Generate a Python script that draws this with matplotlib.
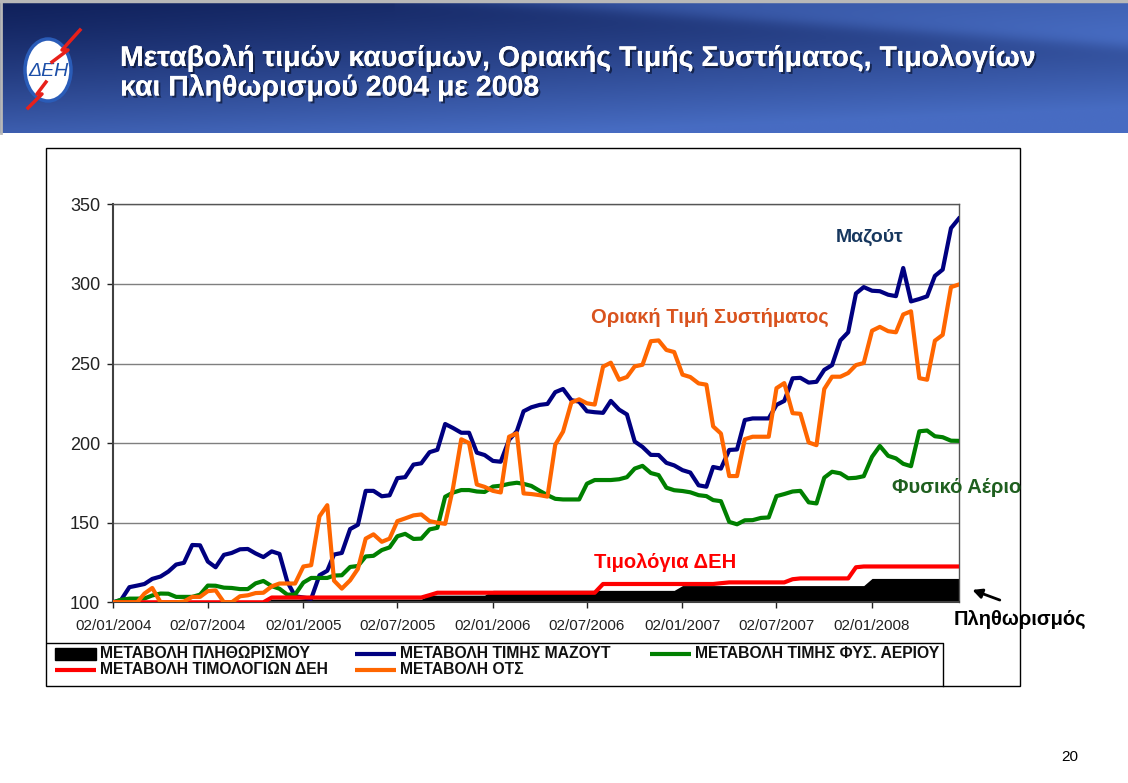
import numpy as np
import pandas as pd
import matplotlib
matplotlib.use('Agg')
import matplotlib.pyplot as plt
import matplotlib.dates as mdates
import matplotlib.patheffects as pe
from matplotlib.patches import Rectangle, Ellipse

plt.rcParams['font.family'] = ['Liberation Sans', 'DejaVu Sans']

# ---- data: semi-monthly points (2nd and 17th of each month), Jan 2004 - Jun 2008
dates = pd.to_datetime([f"{y}-{m:02d}-{d:02d}"
                        for y in range(2004, 2009)
                        for m in range(1, 13)
                        for d in (2, 17)
                        if not (y == 2008 and m > 6)])

inflation = [
    100, 100, 100, 100, 100, 100, 100, 100, 100, 100, 100, 100,
    100, 100, 100, 100, 100, 100, 100, 100, 102, 102, 102, 102,
    102, 102, 102, 102, 102, 102, 102, 102, 102, 102, 102, 102,
    102, 102, 102, 102, 104.5, 104.5, 104.5, 104.5, 104.5, 104.5, 104.5, 104.5,
    107.5, 107.5, 107.5, 107.5, 107.5, 107.5, 107.5, 107.5, 107.5, 107.5, 107.5, 107.5,
    107.5, 107.5, 107.5, 107.5, 107.5, 107.5, 107.5, 107.5, 107.5, 107.5, 107.5, 107.5,
    110.5, 110.5, 110.5, 110.5, 110.5, 110.5, 110.5, 110.5, 110.5, 110.5, 110.5, 110.5,
    110.5, 110.5, 110.5, 110.5, 110.5, 110.5, 110.5, 110.5, 110.5, 110.5, 110.5, 110.5,
    115, 115, 115, 115, 115, 115, 115, 115, 115, 115, 115, 115,
]

mazout = [
    100, 101.5, 109.5, 110.5, 111.5, 114.7, 116.2, 119.3, 123.7, 124.8, 136, 135.8,
    125.6, 122, 129.8, 131, 133.3, 133.5, 130.7, 128.4, 132, 130.4, 113, 103.8,
    103, 102.2, 117, 119.8, 130, 131, 146, 148.7, 170, 170, 166.6, 167.2,
    178, 178.6, 186.5, 187.3, 194.3, 195.8, 212, 209.5, 206.5, 206.5, 194, 192.5,
    188.8, 188.3, 202, 207.5, 220, 222.5, 224, 224.6, 232, 234, 227, 226,
    220, 219.4, 219, 226.5, 221, 218, 201, 197.6, 192.6, 192.5, 187.6, 186,
    183, 181.5, 173.5, 172.6, 185, 184, 195.7, 196, 214.5, 215.5, 215.5, 215.5,
    224, 226.5, 240.7, 241, 238, 238.5, 246, 249, 264.5, 269.6, 294, 298,
    295.7, 295.4, 293.2, 292.3, 310, 289, 290.5, 292.2, 305, 309, 335, 341,
]

gas = [
    100, 101.6, 102.3, 102.3, 102.4, 104.3, 105.5, 105.4, 103.4, 103.4, 103.4, 104.8,
    110.5, 110.4, 109.2, 109, 108.3, 108.3, 111.9, 113.4, 110.2, 108.5, 104.8, 104.8,
    112.4, 115.3, 115.3, 115.3, 116.8, 117, 122.2, 122.8, 128.8, 129.2, 132.8, 134.5,
    141.5, 143, 139.8, 140, 145.8, 146.8, 166.3, 168.9, 170.5, 170.5, 169.6, 169.3,
    172.7, 173.2, 174.4, 175.1, 174.4, 173.1, 170, 167.3, 165, 164.6, 164.6, 164.6,
    174.5, 176.8, 176.8, 176.8, 177.3, 178.6, 184, 185.7, 181.2, 179.9, 172, 170.4,
    169.9, 169.1, 167.3, 166.7, 164.2, 163.5, 150.5, 149, 151.5, 151.6, 153, 153.3,
    166.7, 168, 169.6, 170, 162.8, 162.1, 178.3, 182, 181, 177.9, 178.2, 179.2,
    191.4, 198.2, 192, 190.4, 187, 185.5, 207.4, 207.9, 204.3, 203.7, 201.5, 201.4,
]

tariff = [
    100, 100, 100, 100, 100, 100, 100, 100, 100, 100, 100, 100,
    100, 100, 100, 100, 100, 100, 100, 100, 103, 103, 103, 103,
    103, 103, 103, 103, 103, 103, 103, 103, 103, 103, 103, 103,
    103, 103, 103, 103, 104.5, 106, 106, 106, 106, 106, 106, 106,
    106, 106, 106, 106, 106, 106, 106, 106, 106, 106, 106, 106,
    106, 106, 111.5, 111.5, 111.5, 111.5, 111.5, 111.5, 111.5, 111.5, 111.5, 111.5,
    111.5, 111.5, 111.5, 111.5, 111.5, 112, 112.5, 112.5, 112.5, 112.5, 112.5, 112.5,
    112.5, 112.5, 114.5, 115, 115, 115, 115, 115, 115, 115, 122, 122.5,
    122.5, 122.5, 122.5, 122.5, 122.5, 122.5, 122.5, 122.5, 122.5, 122.5, 122.5, 122.5,
]

ots = [
    100, 100, 100, 100, 105.5, 109, 100, 100, 100, 100.5, 103.4, 103.4,
    107, 107.5, 100, 100, 103.8, 104.4, 105.8, 106, 110, 111.8, 111.8, 111.8,
    122.5, 123.3, 154, 161, 113.6, 108.6, 113.8, 121, 140, 142.7, 138, 140,
    151, 152.7, 154.6, 155.2, 151, 150, 149.3, 171.5, 202.4, 200, 174, 172.5,
    170, 169, 204, 206.2, 168.4, 168, 167.3, 166.4, 199, 207.2, 225.5, 227.5,
    225, 224.2, 248, 250.5, 239.8, 241.5, 248.2, 249.2, 264, 264.5, 258.5, 257.2,
    243, 241.5, 237.5, 236.7, 210.5, 206, 179.3, 179.3, 202.5, 204, 204, 204,
    234.5, 237.7, 218.8, 218.4, 200.4, 198.7, 234, 241.7, 241.7, 244, 249, 250.3,
    270.6, 273, 270.3, 269.6, 280.8, 282.8, 240.8, 239.8, 264.3, 268, 298, 299.6,
]

legend_labels = ['ΜΕΤΑΒΟΛΗ ΠΛΗΘΩΡΙΣΜΟΥ', 'ΜΕΤΑΒΟΛΗ ΤΙΜΗΣ ΜΑΖΟΥΤ',
                 'ΜΕΤΑΒΟΛΗ ΤΙΜΗΣ ΦΥΣ. ΑΕΡΙΟΥ', 'ΜΕΤΑΒΟΛΗ ΤΙΜΟΛΟΓΙΩΝ ΔΕΗ',
                 'ΜΕΤΑΒΟΛΗ ΟΤΣ']
colors = ['black', '#000080', '#008000', '#ff0000', '#ff6600']
title = 'Μεταβολή τιμών καυσίμων, Οριακής Τιμής Συστήματος, Τιμολογίων\nκαι Πληθωρισμού 2004 με 2008'

W, H = 1128, 783
fig = plt.figure(figsize=(W / 100, H / 100), dpi=100)

# background layer in pixel coordinates
bg = fig.add_axes([0, 0, 1, 1], zorder=0)

# header gradient
xx, yy = np.meshgrid(np.linspace(0, 1, 500), np.linspace(0, 1, 120))
t = 0.08 + 0.75 * yy ** 1.3 + 0.35 * xx
d = yy - (xx - 0.42) * 0.6
swoosh = 1 / (1 + np.exp(d / 0.03)) * (xx > 0.35)
t = np.clip(t + 0.45 * swoosh, 0, 1)
dark = np.array([0x0b, 0x1a, 0x52]) / 255
light = np.array([0x47, 0x6c, 0xc2]) / 255
grad = dark + (light - dark) * t[..., None]
bg.imshow(grad, extent=(0, W, 133, 0), aspect='auto', zorder=0)
bg.plot([0, W], [1, 1], color='#b8b8b8', lw=2.5, zorder=1)
bg.plot([1, 1], [0, 133], color='#b8b8b8', lw=2, zorder=1)

# logo
bg.add_patch(Ellipse((48, 70), 46, 62, fc='white', ec='#2a5cb8', lw=2.5, zorder=2))
bg.text(49, 72, 'ΔΕΗ', color='#1d4fa8', fontsize=14, style='italic',
        ha='center', va='center', zorder=3)
bg.plot([80, 62, 68, 52], [30, 50, 50, 62], color='#e8201a', lw=2.5, zorder=4)
bg.plot([46, 37, 42, 28], [82, 94, 94, 108], color='#e8201a', lw=2.5, zorder=4)

bg.text(120, 45, title, color='white', fontsize=20.5, fontweight='bold',
        ha='left', va='top', linespacing=1.12,
        path_effects=[pe.withSimplePatchShadow(offset=(1.5, -1.5), shadow_rgbFace='#0a1430', alpha=0.7),
                      pe.Normal()], zorder=5)

# chart frame and legend box
bg.add_patch(Rectangle((46, 148), 974, 538, fill=False, ec='black', lw=1, zorder=2))
bg.plot([47, 943, 943], [643, 643, 686], color='black', lw=1, zorder=2)

leg_pos = [(55, 654), (355, 654), (650, 654), (55, 670), (355, 670)]
for lab, col, (lx, ly) in zip(legend_labels, colors, leg_pos):
    if col == 'black':
        bg.add_patch(Rectangle((lx, ly - 6), 41, 12, color='black', zorder=3))
    else:
        bg.plot([lx, lx + 41], [ly, ly], color=col, lw=3, solid_capstyle='butt', zorder=3)
    bg.text(lx + 45, ly, lab, fontsize=11.3, fontweight='bold', color='#111111',
            ha='left', va='center', zorder=3)

bg.text(1070, 757, '20', fontsize=11, ha='center', va='center')
bg.set_xlim(0, W)
bg.set_ylim(H, 0)
bg.axis('off')

# ---- chart
ax = fig.add_axes([113.3 / W, 1 - 602.3 / H, (959.3 - 113.3) / W, (602.3 - 204.3) / H], zorder=2)
ax.patch.set_alpha(0)

ax.fill_between(dates, 100, inflation, color='black', lw=0, zorder=2)
ax.plot(dates, mazout, color=colors[1], lw=3, solid_joinstyle='round', zorder=3)
ax.plot(dates, gas, color=colors[2], lw=3, solid_joinstyle='round', zorder=4)
ax.plot(dates, tariff, color=colors[3], lw=3, solid_joinstyle='round', zorder=5)
ax.plot(dates, ots, color=colors[4], lw=3, solid_joinstyle='round', zorder=6)

ax.set_ylim(100, 350)
ax.set_xlim(pd.Timestamp('2004-01-02'), pd.Timestamp('2008-06-18'))
ax.set_yticks(range(100, 351, 50))
xt = pd.date_range('2004-01-01', '2008-01-01', freq='6MS') + pd.Timedelta(days=1)
ax.set_xticks(xt)
ax.xaxis.set_major_formatter(mdates.DateFormatter('%d/%m/%Y'))
ax.tick_params(axis='y', labelsize=13, length=4.5, width=1, pad=5, colors='#222222')
ax.tick_params(axis='x', labelsize=11, length=4, width=1, pad=8, colors='#222222')
ax.grid(axis='y', color='#7f7f7f', lw=1)
ax.set_axisbelow(True)
for s in ['left', 'bottom']:
    ax.spines[s].set_color('#404040')
    ax.spines[s].set_linewidth(1.5)
for s in ['top', 'right']:
    ax.spines[s].set_color('#555555')
    ax.spines[s].set_linewidth(1)

# series captions
ax.text(pd.Timestamp('2007-12-29'), 329, 'Μαζούτ', color='#17375e', fontsize=14,
        fontweight='bold', ha='center', va='center')
ax.text(pd.Timestamp('2007-02-23'), 279, 'Οριακή Τιμή Συστήματος', color='#d9531e',
        fontsize=14.5, fontweight='bold', ha='center', va='center')
ax.text(pd.Timestamp('2008-06-13'), 172.4, 'Φυσικό Αέριο', color='#1f5f1f', fontsize=14.5,
        fontweight='bold', ha='center', va='center', clip_on=False)
ax.text(pd.Timestamp('2006-11-29'), 125.3, 'Τιμολόγια ΔΕΗ', color='#ff0000', fontsize=14.5,
        fontweight='bold', ha='center', va='center')
ax.text(pd.Timestamp('2008-10-12'), 89.5, 'Πληθωρισμός', color='black', fontsize=14.5,
        fontweight='bold', ha='center', va='center', clip_on=False)
ax.annotate('', xy=(pd.Timestamp('2008-07-08'), 108.4), xytext=(pd.Timestamp('2008-09-09'), 100.8),
            arrowprops=dict(arrowstyle='-|>', color='black', lw=2, mutation_scale=14),
            annotation_clip=False)

fig.savefig('out.png', dpi=100)
